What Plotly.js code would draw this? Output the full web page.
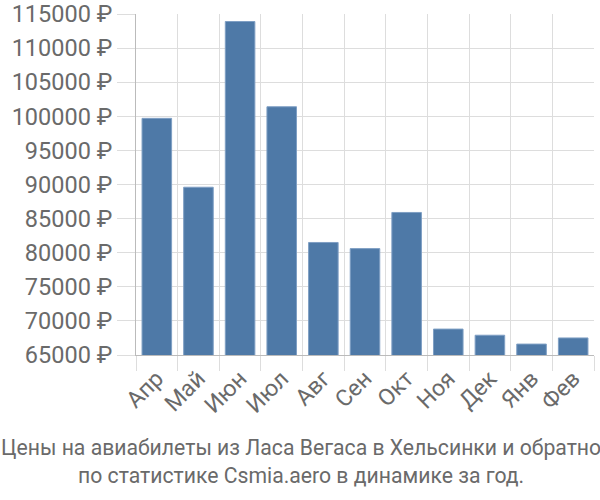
<!DOCTYPE html>
<html>
<head>
<meta charset="utf-8">
<script src="https://cdn.plot.ly/plotly-3.0.1.min.js"></script>
<style>html,body{margin:0;padding:0;background:#fff;}#chart{width:600px;height:500px;}</style>
</head>
<body>
<div id="chart"></div>
<script>
const months = ["Апр","Май","Июн","Июл","Авг","Сен","Окт","Ноя","Дек","Янв","Фев"];
const prices = [99700, 89600, 113900, 101400, 81500, 80600, 85900, 68800, 67900, 66600, 67500];
const tickValues = [65000,70000,75000,80000,85000,90000,95000,100000,105000,110000,115000];
const tickLabels = tickValues.map(v => v + " ₽");
const caption = "Цены на авиабилеты из Ласа Вегаса в Хельсинки и обратно<br>по статистике Csmia.aero в динамике за год.";

const font = {family: "Roboto, Liberation Sans, Arial, sans-serif", color: "#6a6a6a"};

Plotly.newPlot("chart", [{
  type: "bar",
  x: months,
  y: prices,
  marker: {color: "#4e79a7", line: {color: "#7f9fc4", width: 1}},
  hoverinfo: "none"
}], {
  width: 600, height: 500,
  margin: {l: 136, r: 6, t: 14, b: 145},
  paper_bgcolor: "#fff", plot_bgcolor: "#fff",
  bargap: 0.29,
  showlegend: false,
  xaxis: {
    type: "category",
    tickson: "boundaries",
    ticks: "outside", ticklen: 15, tickcolor: "#ddd",
    showgrid: true, gridcolor: "#ddd", gridwidth: 1,
    showline: true, linecolor: "#bbb", linewidth: 1,
    tickangle: -45,
    tickfont: Object.assign({size: 23}, font),
    automargin: false
  },
  yaxis: {
    range: [65000, 115000],
    tickvals: tickValues, ticktext: tickLabels,
    ticks: "outside", ticklen: 18, tickcolor: "#ddd",
    showgrid: true, gridcolor: "#ddd", gridwidth: 1,
    showline: true, linecolor: "#bbb", linewidth: 1,
    zeroline: false,
    tickfont: Object.assign({size: 23.5}, font),
    automargin: false
  },
  annotations: [{
    text: caption,
    xref: "paper", yref: "paper",
    x: (301 - 136) / 458, y: -0.228,
    xanchor: "center", yanchor: "top",
    showarrow: false,
    font: Object.assign({size: 21.2}, font)
  }]
}, {staticPlot: true});
</script>
</body>
</html>
